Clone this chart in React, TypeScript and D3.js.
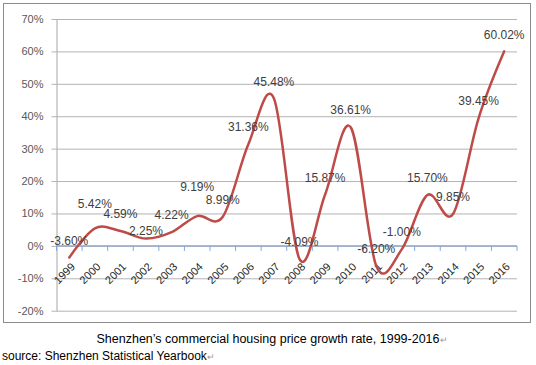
import React, { useRef, useEffect } from 'react';
import * as d3 from "d3";

const years = ["1999", "2000", "2001", "2002", "2003", "2004", "2005", "2006", "2007", "2008", "2009", "2010", "2011", "2012", "2013", "2014", "2015", "2016"];
const growth = [-3.60, 5.42, 4.59, 2.25, 4.22, 9.19, 8.99, 31.36, 45.48, -4.09, 15.87, 36.61, -6.20, -1.00, 15.70, 9.85, 39.45, 60.02];
const yTicks = [-20, -10, 0, 10, 20, 30, 40, 50, 60, 70];
const caption = "Shenzhen\u2019s commercial housing price growth rate, 1999-2016";
const source = "source: Shenzhen Statistical Yearbook";

// label lift above the point (px), a few were hand-placed in the original
const labelLift: Record<string, number> = { "2000": 25, "2002": 8, "2004": 29 };

const width = 536;
const height = 365;
const plot = { left: 56.5, right: 517, top: 19, bottom: 310.7 };
const font = "'Liberation Sans', Arial, sans-serif";

export default function App() {
    const ref = useRef<SVGSVGElement>(null);

    useEffect(() => {
        const svg = d3.select(ref.current);
        svg.selectAll("*").remove();

        const x = d3.scaleBand().domain(years).range([plot.left, plot.right]);
        const y = d3.scaleLinear().domain([-20, 70]).range([plot.bottom, plot.top]);

        // chart frame
        svg.append("rect")
            .attr("x", 3.5).attr("y", 3.5)
            .attr("width", 527).attr("height", 319)
            .attr("fill", "#fff")
            .attr("stroke", "#8c8c8c");

        // y axis + gridlines
        const yAxis = svg.append("g")
            .attr("transform", `translate(${plot.left},0)`)
            .call(d3.axisLeft(y).tickValues(yTicks).tickSizeInner(-(plot.right - plot.left)).tickSizeOuter(0).tickPadding(13).tickFormat(d => `${d}%`));
        yAxis.select(".domain").attr("stroke", "#a6a6a6");
        yAxis.selectAll(".tick line").attr("x1", -5).attr("stroke", "#b3b3b3");
        yAxis.selectAll(".tick text")
            .attr("font-family", font).attr("font-size", 11).attr("fill", "#595959");

        // zero line with category ticks
        const xAxis = svg.append("g")
            .attr("transform", `translate(0,${y(0)})`);
        xAxis.append("line")
            .attr("x1", plot.left).attr("x2", plot.right)
            .attr("stroke", "#86a6d6").attr("stroke-width", 1.2);
        xAxis.selectAll("line.tk")
            .data(d3.range(years.length + 1))
            .join("line")
            .attr("class", "tk")
            .attr("x1", i => plot.left + i * x.bandwidth())
            .attr("x2", i => plot.left + i * x.bandwidth())
            .attr("y1", 0).attr("y2", 5)
            .attr("stroke", "#86a6d6");
        xAxis.selectAll("text")
            .data(years)
            .join("text")
            .attr("transform", d => `translate(${x(d)! + x.bandwidth() / 2 + 1},${16}) rotate(-45)`)
            .attr("text-anchor", "end")
            .attr("dy", "0.7em")
            .attr("font-family", font).attr("font-size", 11).attr("fill", "#262626")
            .text(d => d);

        const pts = years.map((d, i) => [x(d)! + x.bandwidth() / 2, y(growth[i])] as [number, number]);

        const line = d3.line().curve(d3.curveCatmullRom.alpha(0));
        svg.append("path")
            .attr("d", line(pts))
            .attr("fill", "none")
            .attr("stroke", "#be4b48")
            .attr("stroke-width", 2.5)
            .attr("stroke-linejoin", "round")
            .attr("stroke-linecap", "round");

        svg.append("g").selectAll("text")
            .data(years)
            .join("text")
            .attr("x", (d, i) => pts[i][0])
            .attr("y", (d, i) => pts[i][1] - (labelLift[d] ?? 17))
            .attr("dy", "0.35em")
            .attr("text-anchor", "middle")
            .attr("font-family", font).attr("font-size", 12).attr("fill", "#404040")
            .text((d, i) => `${growth[i].toFixed(2)}%`);

        // caption under the chart
        const cap = svg.append("text")
            .attr("x", 272).attr("y", 343)
            .attr("text-anchor", "middle")
            .attr("font-family", font).attr("font-size", 12.5).attr("fill", "#000")
            .text(caption);
        cap.append("tspan").attr("fill", "#9a9a9a").attr("font-size", 9).text("\u21B5");

        const src = svg.append("text")
            .attr("x", 2).attr("y", 359.5)
            .attr("font-family", font).attr("font-size", 12).attr("fill", "#000")
            .text(source);
        src.append("tspan").attr("fill", "#9a9a9a").attr("font-size", 9).text("\u21B5");
    }, []);

    return (
        <svg ref={ref} width={width} height={height}
            style={{ position: "absolute", left: 0, top: 0, background: "#fff" }} />
    );
}
